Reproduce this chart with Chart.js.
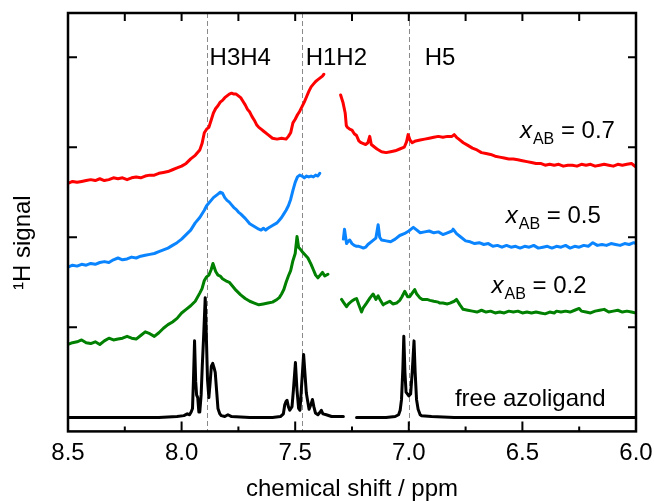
<!DOCTYPE html>
<html lang="en">
<head>
<meta charset="UTF-8" />
<title>1H NMR spectra</title>
<script src="https://cdn.jsdelivr.net/npm/chart.js"></script>
<style>
  body { margin: 0; background: #fff; }
  #wrap { width: 654px; height: 501px; }
</style>
</head>
<body>
<div id="wrap"><canvas id="nmr"></canvas></div>
<script>
// [chemical shift (ppm), signal]; null = cut-out region
const red07 = [
  [8.50,2.60],[8.48,2.62],[8.46,2.61],[8.44,2.62],[8.42,2.63],[8.40,2.64],[8.38,2.63],[8.36,2.65],
  [8.34,2.63],[8.32,2.64],[8.30,2.66],[8.28,2.65],[8.26,2.66],[8.24,2.64],[8.22,2.66],[8.20,2.67],
  [8.18,2.66],[8.16,2.68],[8.14,2.69],[8.12,2.69],[8.10,2.71],[8.08,2.72],[8.06,2.73],[8.04,2.75],
  [8.02,2.77],[8.00,2.79],[7.98,2.82],[7.96,2.87],[7.94,2.91],[7.92,2.97],[7.91,3.04],[7.90,3.16],
  [7.89,3.20],[7.88,3.22],[7.87,3.30],[7.86,3.38],[7.85,3.43],[7.84,3.46],[7.83,3.50],[7.82,3.52],
  [7.81,3.55],[7.80,3.57],[7.79,3.59],[7.78,3.60],[7.77,3.59],[7.76,3.59],[7.75,3.57],[7.74,3.55],
  [7.73,3.51],[7.72,3.47],[7.71,3.42],[7.70,3.39],[7.69,3.34],[7.68,3.30],[7.67,3.25],[7.66,3.22],
  [7.65,3.20],[7.64,3.18],[7.62,3.14],[7.60,3.10],[7.58,3.09],[7.56,3.10],[7.54,3.09],[7.53,3.12],
  [7.52,3.16],[7.51,3.27],[7.50,3.31],[7.49,3.36],[7.48,3.40],[7.47,3.45],[7.46,3.50],[7.45,3.56],
  [7.44,3.62],[7.43,3.67],[7.42,3.70],[7.41,3.73],[7.40,3.75],[7.39,3.77],[7.38,3.79],[7.374,3.81],
  [7.34,null],
  [7.300,3.58],[7.29,3.50],[7.28,3.38],[7.275,3.24],[7.27,3.22],[7.26,3.20],[7.25,3.19],[7.24,3.15],
  [7.23,3.13],[7.22,3.07],[7.21,3.05],[7.20,3.04],[7.19,3.03],[7.18,3.05],[7.172,3.12],[7.165,3.03],
  [7.15,3.00],[7.14,2.98],[7.12,2.95],[7.10,2.94],[7.08,2.95],[7.06,2.96],[7.04,2.98],[7.02,3.00],
  [7.01,3.06],[7.003,3.14],[6.995,3.08],[6.985,3.05],[6.97,3.07],[6.95,3.08],[6.93,3.09],[6.91,3.10],
  [6.89,3.11],[6.87,3.12],[6.85,3.11],[6.83,3.12],[6.81,3.12],[6.80,3.14],[6.79,3.11],[6.78,3.09],
  [6.76,3.05],[6.74,3.02],[6.72,2.99],[6.70,2.97],[6.68,2.94],[6.66,2.93],[6.64,2.92],[6.62,2.90],
  [6.60,2.89],[6.58,2.88],[6.56,2.87],[6.54,2.87],[6.52,2.86],[6.50,2.85],[6.48,2.84],[6.46,2.83],
  [6.44,2.82],[6.42,2.82],[6.40,2.80],[6.38,2.81],[6.36,2.80],[6.34,2.81],[6.32,2.79],[6.30,2.80],
  [6.28,2.80],[6.26,2.79],[6.24,2.81],[6.22,2.80],[6.20,2.81],[6.18,2.79],[6.16,2.80],[6.14,2.81],
  [6.12,2.80],[6.10,2.79],[6.08,2.81],[6.06,2.80],[6.04,2.81],[6.02,2.82],[6.01,2.80],[6.00,2.78]
];
const blue05 = [
  [8.50,1.67],[8.48,1.69],[8.46,1.68],[8.44,1.70],[8.42,1.69],[8.40,1.71],[8.38,1.70],[8.36,1.72],
  [8.34,1.73],[8.32,1.72],[8.30,1.75],[8.28,1.77],[8.26,1.75],[8.24,1.76],[8.22,1.78],[8.20,1.77],
  [8.18,1.79],[8.16,1.80],[8.14,1.81],[8.12,1.82],[8.10,1.84],[8.08,1.86],[8.06,1.88],[8.04,1.91],
  [8.02,1.94],[8.00,1.98],[7.98,2.03],[7.96,2.08],[7.94,2.16],[7.92,2.22],[7.90,2.30],[7.89,2.35],
  [7.88,2.38],[7.87,2.41],[7.86,2.44],[7.85,2.46],[7.84,2.48],[7.83,2.50],[7.82,2.49],[7.81,2.44],
  [7.80,2.41],[7.79,2.39],[7.78,2.36],[7.77,2.33],[7.76,2.31],[7.75,2.28],[7.74,2.26],[7.72,2.21],
  [7.70,2.15],[7.68,2.12],[7.66,2.09],[7.65,2.08],[7.64,2.10],[7.63,2.08],[7.62,2.10],[7.60,2.13],
  [7.58,2.16],[7.57,2.19],[7.56,2.22],[7.55,2.26],[7.54,2.30],[7.53,2.35],[7.52,2.42],[7.51,2.52],
  [7.50,2.61],[7.49,2.67],[7.48,2.69],[7.47,2.68],[7.46,2.66],[7.45,2.68],[7.44,2.67],[7.43,2.68],
  [7.42,2.67],[7.41,2.69],[7.40,2.68],[7.392,2.71],
  [7.34,null],
  [7.288,1.98],[7.283,2.09],[7.278,2.00],[7.274,1.93],[7.265,1.96],[7.26,1.97],[7.25,1.93],[7.24,1.91],
  [7.23,1.90],[7.22,1.90],[7.21,1.89],[7.20,1.88],[7.19,1.89],[7.18,1.92],[7.16,1.96],[7.145,1.99],
  [7.135,2.14],[7.128,2.00],[7.12,1.97],[7.10,1.96],[7.08,1.95],[7.06,1.98],[7.04,2.02],[7.02,2.04],
  [7.00,2.07],[6.99,2.09],[6.98,2.11],[6.97,2.09],[6.95,2.05],[6.93,2.06],[6.91,2.07],[6.89,2.05],
  [6.87,2.06],[6.85,2.03],[6.83,2.05],[6.81,2.07],[6.805,2.09],[6.79,2.04],[6.77,2.00],[6.75,1.96],
  [6.73,1.95],[6.71,1.93],[6.69,1.94],[6.67,1.92],[6.65,1.93],[6.63,1.90],[6.61,1.91],[6.59,1.89],
  [6.57,1.91],[6.55,1.89],[6.53,1.90],[6.51,1.88],[6.49,1.90],[6.47,1.89],[6.45,1.91],[6.43,1.88],
  [6.41,1.89],[6.39,1.90],[6.37,1.88],[6.35,1.90],[6.33,1.89],[6.31,1.91],[6.29,1.88],[6.27,1.90],
  [6.25,1.89],[6.23,1.91],[6.21,1.90],[6.19,1.94],[6.17,1.91],[6.15,1.92],[6.13,1.91],[6.11,1.93],
  [6.09,1.92],[6.07,1.91],[6.05,1.93],[6.03,1.92],[6.01,1.94],[6.00,1.93]
];
const green02 = [
  [8.50,0.81],[8.48,0.83],[8.46,0.84],[8.44,0.86],[8.42,0.83],[8.40,0.82],[8.38,0.84],[8.36,0.81],
  [8.34,0.85],[8.32,0.88],[8.30,0.86],[8.28,0.87],[8.26,0.88],[8.24,0.90],[8.22,0.88],[8.20,0.87],
  [8.18,0.91],[8.16,0.95],[8.14,0.93],[8.12,0.90],[8.10,0.94],[8.08,0.99],[8.06,1.03],[8.04,1.06],
  [8.02,1.10],[8.00,1.16],[7.98,1.20],[7.96,1.24],[7.94,1.29],[7.92,1.38],[7.91,1.43],[7.90,1.52],
  [7.89,1.56],[7.88,1.58],[7.87,1.64],[7.862,1.71],[7.85,1.62],[7.84,1.58],[7.83,1.57],[7.82,1.54],
  [7.80,1.51],[7.79,1.50],[7.78,1.47],[7.76,1.41],[7.74,1.36],[7.72,1.32],[7.70,1.29],[7.68,1.27],
  [7.66,1.25],[7.64,1.26],[7.62,1.27],[7.60,1.28],[7.58,1.31],[7.57,1.33],[7.56,1.37],[7.55,1.42],
  [7.54,1.50],[7.53,1.57],[7.52,1.63],[7.51,1.74],[7.50,1.82],[7.492,2.01],[7.485,1.89],[7.475,1.86],
  [7.466,1.83],[7.455,1.80],[7.444,1.77],[7.43,1.70],[7.42,1.64],[7.41,1.58],[7.40,1.55],[7.39,1.58],
  [7.38,1.61],[7.37,1.57],[7.356,1.59],
  [7.33,null],
  [7.296,1.31],[7.285,1.27],[7.274,1.23],[7.265,1.26],[7.252,1.29],[7.24,1.31],[7.23,1.32],[7.22,1.25],
  [7.208,1.17],[7.20,1.22],[7.186,1.27],[7.17,1.33],[7.157,1.37],[7.145,1.31],[7.135,1.35],[7.125,1.30],
  [7.113,1.25],[7.10,1.27],[7.084,1.29],[7.07,1.26],[7.054,1.27],[7.04,1.30],[7.03,1.34],[7.018,1.40],
  [7.005,1.34],[6.996,1.34],[6.985,1.38],[6.974,1.42],[6.965,1.37],[6.952,1.33],[6.94,1.31],[6.92,1.31],
  [6.907,1.30],[6.89,1.29],[6.87,1.28],[6.864,1.27],[6.85,1.27],[6.83,1.26],[6.819,1.27],[6.80,1.29],
  [6.79,1.31],[6.775,1.25],[6.761,1.20],[6.74,1.19],[6.72,1.18],[6.70,1.17],[6.68,1.19],[6.66,1.17],
  [6.64,1.18],[6.62,1.16],[6.60,1.17],[6.58,1.16],[6.56,1.18],[6.54,1.17],[6.52,1.18],[6.50,1.16],
  [6.48,1.17],[6.46,1.16],[6.44,1.17],[6.42,1.16],[6.40,1.15],[6.38,1.17],[6.36,1.16],[6.35,1.18],
  [6.33,1.17],[6.31,1.18],[6.29,1.17],[6.27,1.19],[6.25,1.21],[6.24,1.18],[6.22,1.17],[6.20,1.16],
  [6.18,1.18],[6.16,1.19],[6.14,1.20],[6.12,1.17],[6.10,1.18],[6.08,1.19],[6.06,1.17],[6.04,1.18],
  [6.02,1.17],[6.00,1.16]
];
const blackFree = [
  [8.50,0.00],[8.40,0.00],[8.30,0.00],[8.20,0.00],[8.10,0.00],[8.02,0.01],[7.99,0.02],[7.975,0.04],
  [7.965,0.03],[7.958,0.06],[7.952,0.10],[7.948,0.40],[7.943,0.85],[7.938,0.40],[7.934,0.25],[7.929,0.22],
  [7.924,0.06],[7.920,0.06],[7.914,0.25],[7.909,0.57],[7.903,0.90],[7.896,1.33],[7.890,0.80],[7.886,0.42],
  [7.880,0.22],[7.874,0.40],[7.869,0.57],[7.863,0.60],[7.857,0.55],[7.852,0.50],[7.846,0.30],[7.840,0.10],
  [7.832,0.04],[7.825,0.02],[7.81,0.01],[7.796,0.03],[7.78,0.01],[7.70,0.00],[7.60,0.00],[7.565,0.01],
  [7.552,0.04],[7.546,0.14],[7.540,0.18],[7.536,0.19],[7.530,0.12],[7.524,0.08],[7.514,0.12],[7.508,0.30],
  [7.499,0.61],[7.492,0.30],[7.485,0.10],[7.479,0.08],[7.472,0.35],[7.463,0.70],[7.456,0.45],[7.451,0.27],
  [7.445,0.18],[7.439,0.09],[7.430,0.15],[7.424,0.20],[7.418,0.12],[7.411,0.05],[7.400,0.03],[7.390,0.06],
  [7.385,0.08],[7.378,0.04],[7.363,0.03],[7.34,0.01],[7.288,0.01],
  [7.26,null],
  [7.230,0.00],[7.10,0.00],[7.060,0.01],[7.045,0.03],[7.038,0.08],[7.032,0.20],[7.026,0.55],[7.022,0.90],
  [7.017,0.50],[7.012,0.28],[7.000,0.24],[6.992,0.26],[6.985,0.50],[6.977,0.85],[6.972,0.50],[6.966,0.20],
  [6.959,0.09],[6.950,0.03],[6.944,0.02],[6.90,0.01],[6.80,0.00],[6.60,0.00],[6.40,0.00],[6.20,0.00],
  [6.00,0.00]
];

const peakLines = [7.89, 7.47, 7.00];
const peakNames = ['H3H4', 'H1H2', 'H5'];
const fractions = ['0.7', '0.5', '0.2'];
const yTickValues = [1, 2, 3, 4];

const FONT = '"Liberation Sans", Arial, Helvetica, sans-serif';

function toPoints(arr) {
  return arr.map(p => ({ x: p[0], y: p[1] }));
}

function drawXab(ctx, px, py, value) {
  ctx.textAlign = 'left';
  ctx.textBaseline = 'alphabetic';
  ctx.font = 'italic 24px ' + FONT;
  ctx.fillText('x', px, py);
  let w = ctx.measureText('x').width + 1;
  ctx.font = '16px ' + FONT;
  ctx.fillText('AB', px + w, py + 6);
  w += ctx.measureText('AB').width;
  ctx.font = '24px ' + FONT;
  ctx.fillText(' = ' + value, px + w, py);
}

const decor = {
  id: 'decor',
  beforeDatasetsDraw(chart) {
    const { ctx, chartArea: a, scales: { x } } = chart;
    ctx.save();
    ctx.strokeStyle = '#8a8a8a';
    ctx.lineWidth = 1;
    ctx.setLineDash([5, 3]);
    peakLines.forEach(p => {
      const px = Math.round(x.getPixelForValue(p)) + 0.5;
      ctx.beginPath();
      ctx.moveTo(px, a.top);
      ctx.lineTo(px, a.bottom);
      ctx.stroke();
    });
    ctx.restore();
  },
  afterDatasetsDraw(chart) {
    const { ctx, chartArea: a, scales: { x, y } } = chart;
    ctx.save();
    ctx.strokeStyle = '#000';
    ctx.lineWidth = 2.5;
    ctx.strokeRect(a.left, a.top, a.right - a.left, a.bottom - a.top);

    // inward ticks: majors from the scale, minors half way between
    ctx.lineWidth = 2;
    const majors = x.ticks.map(t => t.value);
    majors.forEach((v, i) => {
      const px = x.getPixelForValue(v);
      ctx.beginPath();
      ctx.moveTo(px, a.bottom); ctx.lineTo(px, a.bottom - 10);
      ctx.moveTo(px, a.top); ctx.lineTo(px, a.top + 8);
      ctx.stroke();
      if (i < majors.length - 1) {
        const mx = x.getPixelForValue((v + majors[i + 1]) / 2);
        ctx.beginPath();
        ctx.moveTo(mx, a.bottom); ctx.lineTo(mx, a.bottom - 5);
        ctx.moveTo(mx, a.top); ctx.lineTo(mx, a.top + 8);
        ctx.stroke();
      }
    });
    yTickValues.forEach(v => {
      const py = y.getPixelForValue(v);
      ctx.beginPath();
      ctx.moveTo(a.left, py); ctx.lineTo(a.left + 9, py);
      ctx.moveTo(a.right, py); ctx.lineTo(a.right - 8, py);
      ctx.stroke();
    });

    // peak assignments
    ctx.fillStyle = '#000';
    ctx.font = '24px ' + FONT;
    ctx.textAlign = 'left';
    ctx.textBaseline = 'alphabetic';
    const namePos = [7.877, 7.454, 6.930];
    peakNames.forEach((n, i) => {
      ctx.fillText(n, x.getPixelForValue(namePos[i]), y.getPixelForValue(3.91));
    });

    // series labels
    const labelPos = [[6.511, 3.10], [6.573, 2.155], [6.636, 1.38]];
    fractions.forEach((f, i) => {
      drawXab(ctx, x.getPixelForValue(labelPos[i][0]), y.getPixelForValue(labelPos[i][1]), f);
    });
    ctx.font = '24px ' + FONT;
    ctx.fillText('free azoligand', x.getPixelForValue(6.797), y.getPixelForValue(0.125));

    // y axis title
    ctx.translate(29.5, 290);
    ctx.rotate(-Math.PI / 2);
    ctx.fillText('\u00B9H signal', 0, 0);
    ctx.restore();
  }
};

new Chart(document.getElementById('nmr'), {
  type: 'line',
  data: {
    datasets: [
      { label: 'free azoligand', data: toPoints(blackFree), borderColor: '#000000' },
      { label: 'xAB = 0.2', data: toPoints(green02), borderColor: '#008000' },
      { label: 'xAB = 0.5', data: toPoints(blue05), borderColor: '#0a84ff' },
      { label: 'xAB = 0.7', data: toPoints(red07), borderColor: '#ff0000' }
    ]
  },
  options: {
    responsive: true,
    maintainAspectRatio: false,
    animation: false,
    parsing: false,
    spanGaps: false,
    layout: { padding: { left: 68, right: 18, top: 13, bottom: 0 } },
    plugins: { legend: { display: false }, tooltip: { enabled: false } },
    elements: {
      point: { radius: 0 },
      line: { borderWidth: 3, tension: 0, borderJoinStyle: 'round', borderCapStyle: 'round', fill: false }
    },
    scales: {
      x: {
        type: 'linear', reverse: true, min: 6, max: 8.5,
        // invisible tick marks only reserve the gap above the labels
        grid: { display: true, drawOnChartArea: false, drawTicks: true, tickLength: 8, color: 'rgba(0,0,0,0)' },
        border: { display: false },
        ticks: {
          stepSize: 0.5, padding: 0, color: '#000', maxRotation: 0, autoSkip: false,
          font: { size: 24, family: FONT },
          callback: v => Number(v).toFixed(1)
        },
        title: {
          display: true, text: 'chemical shift / ppm', color: '#000',
          font: { size: 24, family: FONT, lineHeight: 0.95 }, padding: { top: 10, bottom: 0 }
        }
      },
      y: { type: 'linear', display: false, min: -0.155, max: 4.49 }
    }
  },
  plugins: [decor]
});
</script>
</body>
</html>
